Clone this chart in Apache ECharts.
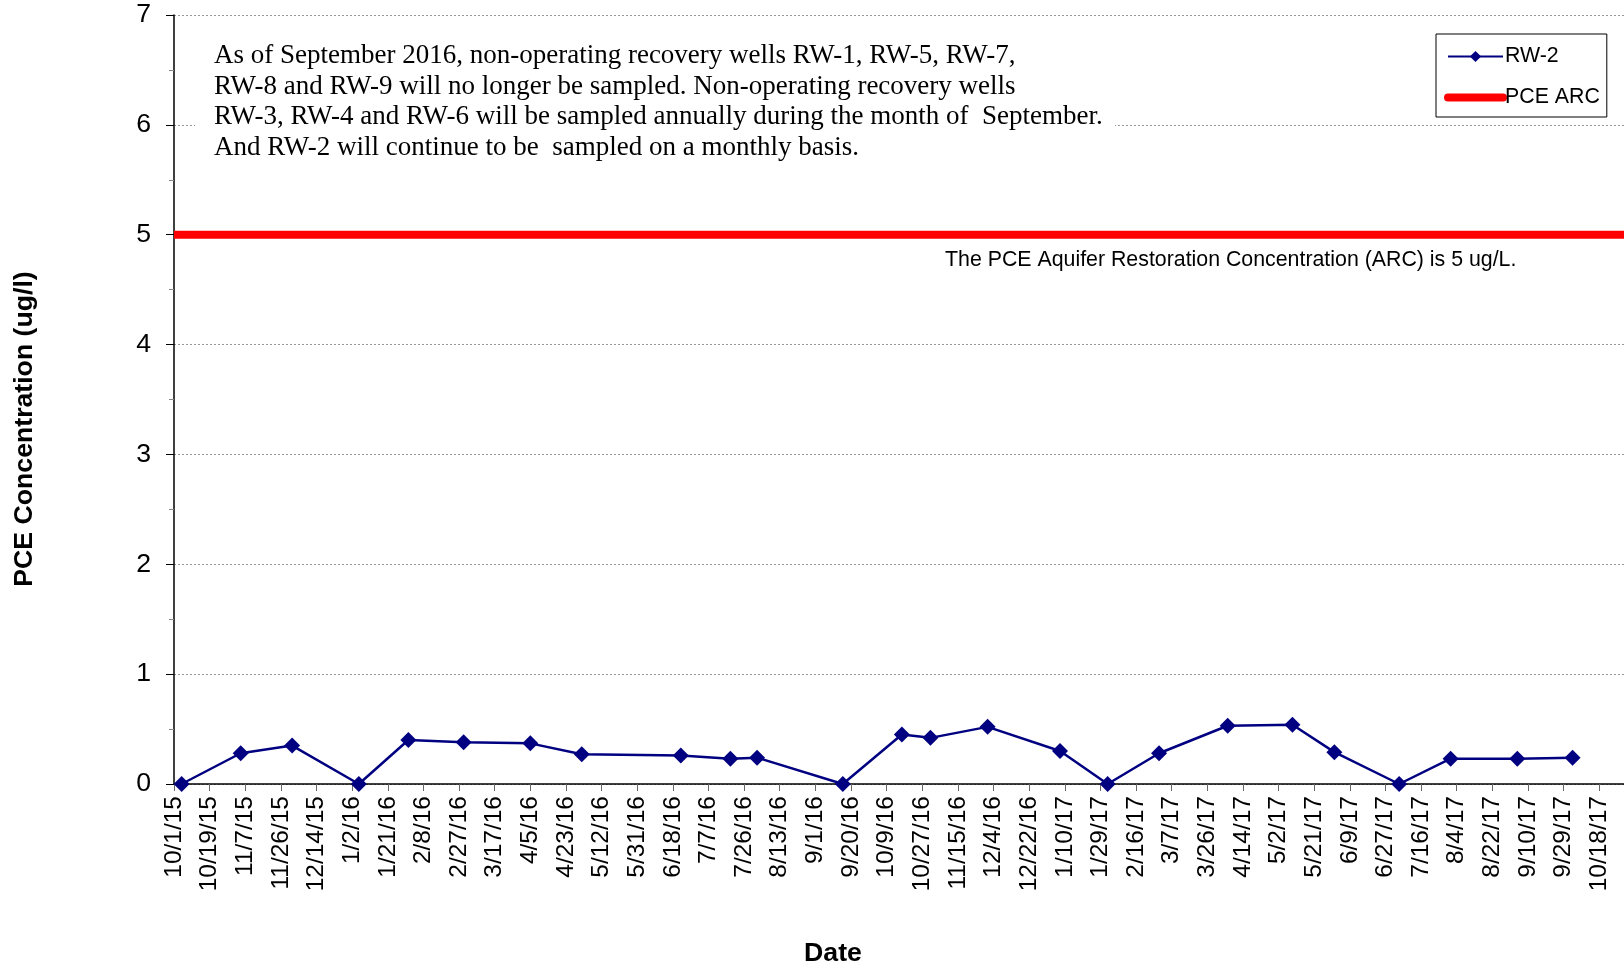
<!DOCTYPE html>
<html>
<head>
<meta charset="utf-8">
<script src="https://cdn.jsdelivr.net/npm/echarts@6/dist/echarts.min.js"></script>
<style>
  html, body { margin: 0; padding: 0; background: #ffffff; }
  #chart { width: 1624px; height: 968px; }
</style>
</head>
<body>
<div id="chart"></div>
<script>
// ---- Data ----
const sampleDates = ['2015-10-05','2015-11-05','2015-12-02','2016-01-06','2016-02-01','2016-03-01','2016-04-05','2016-05-02','2016-06-23','2016-07-19','2016-08-02','2016-09-16','2016-10-17','2016-11-01','2016-12-01','2017-01-08','2017-02-02','2017-03-01','2017-04-06','2017-05-10','2017-06-01','2017-07-05','2017-08-01','2017-09-05','2017-10-04'];
const rw2Values = [0, 0.28, 0.35, 0, 0.40, 0.38, 0.37, 0.27, 0.26, 0.23, 0.24, 0, 0.45, 0.42, 0.52, 0.30, 0, 0.28, 0.53, 0.54, 0.29, 0, 0.23, 0.23, 0.24];
const arcValue = 5;
const xTickLabels = ['10/1/15','10/19/15','11/7/15','11/26/15','12/14/15','1/2/16','1/21/16','2/8/16','2/27/16','3/17/16','4/5/16','4/23/16','5/12/16','5/31/16','6/18/16','7/7/16','7/26/16','8/13/16','9/1/16','9/20/16','10/9/16','10/27/16','11/15/16','12/4/16','12/22/16','1/10/17','1/29/17','2/16/17','3/7/17','3/26/17','4/14/17','5/2/17','5/21/17','6/9/17','6/27/17','7/16/17','8/4/17','8/22/17','9/10/17','9/29/17','10/18/17'];
const yTickLabels = ['0','1','2','3','4','5','6','7'];
const seriesNames = ['RW-2', 'PCE ARC'];
const noteLines = [
  'As of September 2016, non-operating recovery wells RW-1, RW-5, RW-7,',
  'RW-8 and RW-9 will no longer be sampled. Non-operating recovery wells',
  'RW-3, RW-4 and RW-6 will be sampled annually during the month of  September.',
  'And RW-2 will continue to be  sampled on a monthly basis.'
];
const arcNote = 'The PCE Aquifer Restoration Concentration (ARC) is 5 ug/L.';
const xTitle = 'Date';
const yTitle = 'PCE Concentration (ug/l)';

// ---- Axis setup (days since 10/1/15) ----
const originUTC = Date.UTC(2015, 9, 1);
function dayOffset(s) {
  const p = s.split('-').map(Number);
  return (Date.UTC(p[0], p[1] - 1, p[2]) - originUTC) / 86400000;
}
const xInterval = 18.7;
const xMin = 0;
const xMax = 761;

const rw2Data = sampleDates.map((d, i) => [dayOffset(d), rw2Values[i]]);
const arcData = [[xMin, arcValue], [xMax, arcValue]];

const chart = echarts.init(document.getElementById('chart'));
const option = {
  animation: false,
  backgroundColor: '#ffffff',
  grid: { left: 174, right: 0, top: 15, bottom: 184, containLabel: false },
  legend: {
    orient: 'vertical',
    left: 1436, top: 34,
    padding: [12, 7, 9, 8],
    itemWidth: 55, itemHeight: 14, itemGap: 20,
    borderColor: '#000000', borderWidth: 1,
    backgroundColor: '#ffffff',
    textStyle: { fontFamily: 'Arial, Liberation Sans, sans-serif', fontSize: 21.33, color: '#000000', padding: [0, 0, 0, -3] },
    data: [
      { name: seriesNames[0] },
      { name: seriesNames[1], itemStyle: { opacity: 0 }, lineStyle: { width: 8, cap: 'round', color: '#ff0000' } }
    ]
  },
  xAxis: {
    type: 'value',
    min: xMin, max: xMax, interval: xInterval,
    axisLine: { show: true, onZero: false, lineStyle: { color: '#000000', width: 1.5 } },
    axisTick: { show: true, length: 7, lineStyle: { color: '#666666', width: 1 } },
    splitLine: { show: false },
    axisLabel: {
      rotate: 90, margin: 12,
      fontFamily: 'Arial, Liberation Sans, sans-serif', fontSize: 24.5, color: '#000000',
      showMinLabel: true, showMaxLabel: true,
      formatter: function (v) {
        const k = Math.round(v / xInterval);
        if (Math.abs(v - k * xInterval) > 0.05) return '';
        return xTickLabels[k] || '';
      }
    }
  },
  yAxis: {
    type: 'value',
    min: 0, max: 7, interval: 1,
    axisLine: { show: true, lineStyle: { color: '#000000', width: 1.5 } },
    axisTick: { show: true, length: 8, lineStyle: { color: '#000000', width: 1 } },
    minorTick: { show: true, splitNumber: 2, length: 5, lineStyle: { color: '#888888', width: 1 } },
    splitLine: { show: true, lineStyle: { color: '#999999', width: 1, type: [2, 2] } },
    axisLabel: {
      margin: 23,
      fontFamily: 'Arial, Liberation Sans, sans-serif', fontSize: 26.67, color: '#000000',
      formatter: function (v) { return yTickLabels[Math.round(v)] || ''; }
    }
  },
  series: [
    {
      name: seriesNames[1],
      type: 'line',
      data: arcData,
      symbol: 'none',
      lineStyle: { color: '#ff0000', width: 8 },
      itemStyle: { color: '#ff0000' },
      z: 2,
      silent: true
    },
    {
      name: seriesNames[0],
      type: 'line',
      data: rw2Data,
      symbol: 'diamond',
      symbolSize: 16,
      lineStyle: { color: '#000080', width: 2.5 },
      itemStyle: { color: '#000080' },
      z: 3
    }
  ],
  graphic: [
    {
      type: 'rect', z: 50,
      shape: { x: 195, y: 28, width: 920, height: 145 },
      style: { fill: '#ffffff' }
    },
    {
      type: 'text', z: 51,
      x: 214, y: 41,
      style: {
        text: noteLines.join('\n'),
        font: '27px "Liberation Serif", "Times New Roman", serif',
        lineHeight: 30.5,
        fill: '#000000',
        verticalAlign: 'top'
      }
    },
    {
      type: 'text', z: 51,
      x: 945, y: 260,
      style: {
        text: arcNote,
        font: '21.33px Arial, "Liberation Sans", sans-serif',
        fill: '#000000',
        verticalAlign: 'middle'
      }
    },
    {
      type: 'text', z: 51,
      x: 25, y: 429, rotation: Math.PI / 2,
      style: {
        text: yTitle,
        font: 'bold 26.67px Arial, "Liberation Sans", sans-serif',
        fill: '#000000',
        align: 'center', verticalAlign: 'middle'
      }
    },
    {
      type: 'text', z: 51,
      x: 833, y: 954,
      style: {
        text: xTitle,
        font: 'bold 26.67px Arial, "Liberation Sans", sans-serif',
        fill: '#000000',
        align: 'center', verticalAlign: 'middle'
      }
    }
  ]
};
chart.setOption(option);
</script>
</body>
</html>
